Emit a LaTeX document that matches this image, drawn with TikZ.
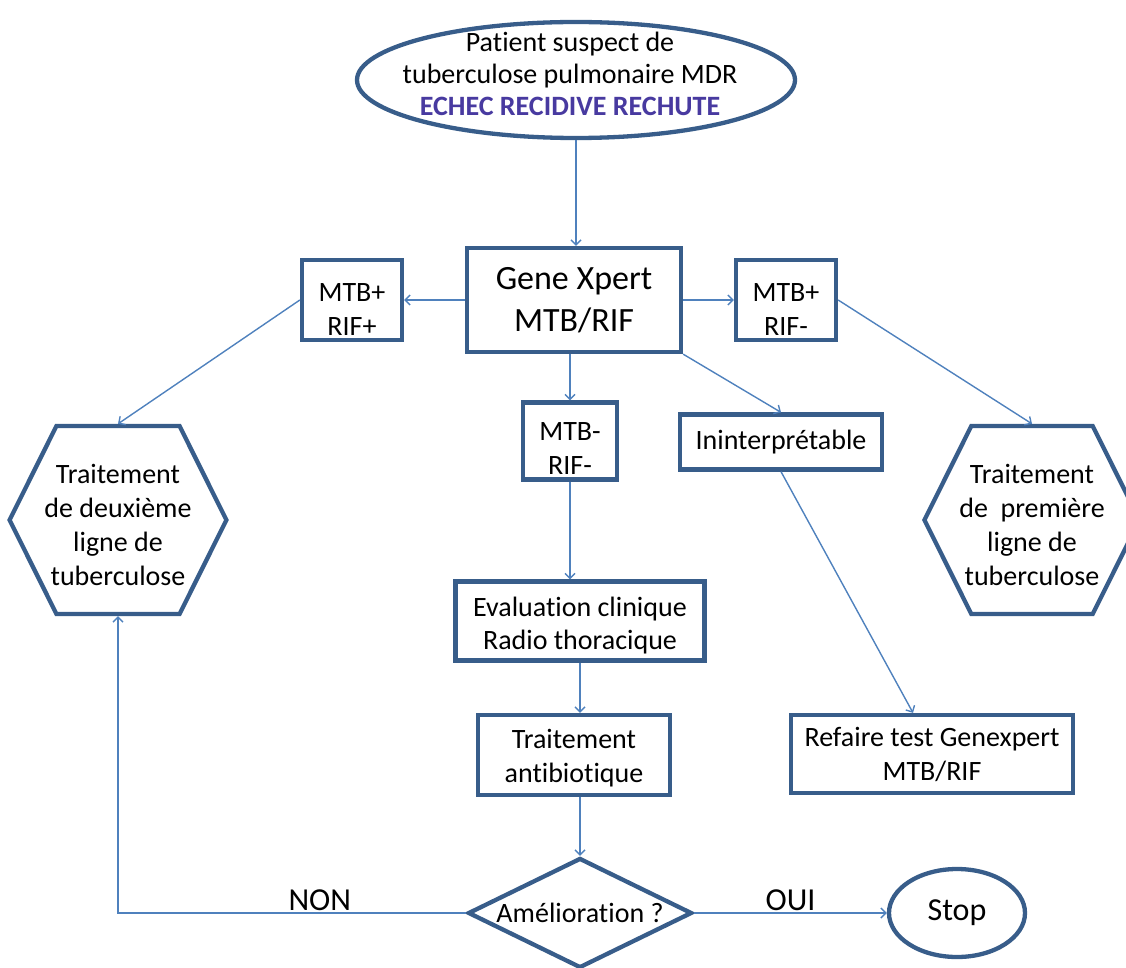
\documentclass[tikz,border=0pt]{standalone}
\usepackage{fontspec}
\setmainfont{Carlito}[Ligatures=NoCommon]
\usetikzlibrary{shapes.geometric, shapes.symbols, arrows.meta}
\definecolor{boxblue}{RGB}{56,93,138}
\definecolor{arrowblue}{RGB}{79,129,189}
\definecolor{echec}{RGB}{72,58,160}
\newcommand{\drop}[1]{\rule{0pt}{#1}}

\begin{document}
\begin{tikzpicture}[x=1pt,y=-1pt]

\tikzset{box/.style = {shape=rectangle,draw=boxblue,line width=4.3pt,fill=white,align=center,inner sep=2pt,font=\fontsize{28}{34}\selectfont}}
\tikzset{hexa/.style = {box,shape=signal,signal to=west and east,signal pointer angle=127,inner xsep=-12pt,minimum height=188pt}}
\tikzset{edge/.style = {draw=arrowblue,line width=1.4pt,->,> = {Straight Barb[length=5pt,width=10pt]}}}
\tikzset{lbl/.style = {font=\fontsize{32}{38}\selectfont,inner sep=2pt}}
\useasboundingbox (0,0) rectangle (1126,968);
%nodes
\node[box, shape=ellipse, minimum width=438pt, minimum height=116pt] (patient) at (576,80) {};
\node[align=center, font=\fontsize{28}{32}\selectfont] (patienttxt) at (570,74) {Patient suspect de\\tuberculose pulmonaire MDR\\\textcolor{echec}{\bfseries ECHEC RECIDIVE RECHUTE}};
\node[box, minimum width=214pt, minimum height=104pt, font=\fontsize{34}{42}\selectfont] (gene) at (574,300) {Gene Xpert\\MTB/RIF};
\node[box, minimum width=100pt, minimum height=80pt] (mtbpp) at (352,300) {\drop{36pt}MTB+\\RIF+};
\node[box, minimum width=100pt, minimum height=80pt] (mtbpm) at (786,300) {\drop{36pt}MTB+\\RIF-};
\node[box, minimum width=94pt, minimum height=77pt] (mtbmm) at (570,441) {\drop{32pt}MTB-\\RIF-};
\node[box, minimum width=202pt, minimum height=55pt] (ininterp) at (781,442) {Ininterprétable};
\node[hexa] (hexl) at (118,520) {\drop{30pt}Traitement\\de deuxième\\ligne de\\tuberculose};
\node[hexa] (hexr) at (1032,520) {\drop{30pt}Traitement\\de~~première\\ligne de\\tuberculose};
\node[box, minimum width=249pt, minimum height=79pt, font=\fontsize{28}{33}\selectfont] (eval) at (580,621) {\drop{28pt}Evaluation clinique\\Radio thoracique};
\node[box, minimum width=192pt, minimum height=80pt] (antibio) at (574,755) {\drop{26pt}Traitement\\antibiotique};
\node[box, minimum width=282pt, minimum height=78pt] (refaire) at (932,754) {Refaire test Genexpert\\MTB/RIF};
\node[box, shape=diamond, aspect=2, inner sep=0pt, minimum width=224pt, minimum height=110pt] (amelio) at (580,913) {Amélioration ?};
\node[box, shape=ellipse, minimum width=136pt, minimum height=88pt, font=\fontsize{32}{38}\selectfont] (stop) at (957,913) {Stop};
%edges
\draw[edge] (patient.south) -- (patient.south |- gene.north);
\draw[edge] (gene.west) -- (mtbpp.east);
\draw[edge] (gene.east) -- (mtbpm.west);
\draw[edge] (mtbmm.north |- gene.south) -- (mtbmm.north);
\draw[edge] (gene.south east) -- (ininterp.north);
\draw[edge] (mtbpp.west) -- (hexl.north);
\draw[edge] (mtbpm.east) -- (hexr.north);
\draw[edge] (mtbmm.south) -- (mtbmm.south |- eval.north);
\draw[edge] (eval.south) -- (eval.south |- antibio.north);
\draw[edge] (amelio.north |- antibio.south) -- (amelio.north);
\draw[edge] (ininterp.south) -- ([xshift=-19pt]refaire.north);
\draw[edge] (amelio.east) -- (stop.west) node [midway, above, lbl] {OUI};
\draw[edge] (amelio.west) -| (hexl.south) node [pos=0.21, above, lbl] {NON};

\end{tikzpicture}
\end{document}
